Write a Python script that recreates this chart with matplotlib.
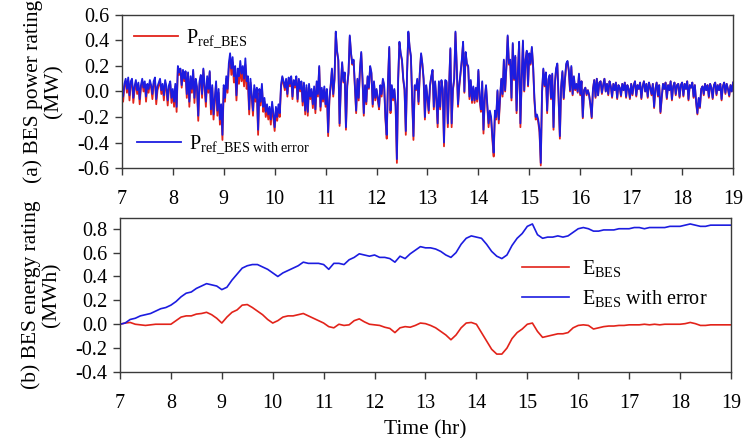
import numpy as np
import matplotlib
matplotlib.use("Agg")
import matplotlib.pyplot as plt
from matplotlib.lines import Line2D

plt.rcParams['font.family'] = ['Liberation Serif', 'DejaVu Serif']
plt.rcParams['mathtext.fontset'] = 'custom'
plt.rcParams['mathtext.rm'] = 'Liberation Serif'
plt.rcParams['mathtext.it'] = 'Liberation Serif:italic'

# ---------------- data: BES power (MW), 0.025 h steps from 7 to 19 h ----------------
P_with_error = [
    # 7 h
    0.00, -0.04, 0.06, 0.10, 0.02, 0.11, -0.03, 0.08, 0.10, -0.05, 0.04, 0.09, 0.01, 0.07, -0.06, 0.05, 0.10, 0.03, 0.08, -0.04,
    0.06, 0.02, 0.09, 0.05, -0.02, 0.08, 0.11, -0.06, 0.04, 0.07, 0.10, 0.01, 0.06, -0.03, 0.09, 0.04, -0.07, 0.05, 0.08, -0.05,
    # 8 h
    0.02, -0.08, 0.06, -0.12, 0.20, 0.15, 0.18, 0.05, 0.17, 0.10, 0.16, -0.02, 0.15, -0.08, 0.12, 0.02, 0.17, -0.05, 0.10, 0.04,
    -0.19, 0.08, 0.13, -0.02, 0.18, 0.05, -0.08, 0.12, 0.02, 0.16, -0.14, 0.05, -0.18, -0.05, 0.08, -0.15, 0.02, -0.22, -0.10, -0.34,
    # 9 h
    0.05, -0.05, 0.12, 0.02, 0.22, 0.30, 0.18, 0.27, 0.12, 0.20, -0.03, 0.18, 0.12, 0.24, 0.14, 0.20, 0.10, 0.26, 0.08, 0.12,
    -0.14, 0.10, -0.02, -0.15, 0.05, -0.05, 0.03, -0.30, 0.02, -0.08, 0.06, -0.12, -0.05, -0.16, -0.10, -0.18, -0.12, -0.22, -0.08, -0.17,
    # 10 h
    -0.28, -0.12, -0.20, -0.10, -0.17, 0.05, 0.12, 0.08, 0.03, 0.10, -0.02, 0.11, 0.06, 0.12, -0.04, 0.09, 0.05, 0.12, -0.06, 0.10,
    0.02, 0.08, -0.08, 0.07, -0.15, 0.05, -0.16, 0.06, -0.04, 0.02, -0.10, 0.04, -0.14, 0.08, -0.02, 0.20, -0.12, 0.03, -0.06, 0.04,
    # 11 h
    -0.10, 0.02, -0.32, -0.05, 0.05, 0.18, -0.02, 0.10, 0.47, 0.32, 0.25, -0.25, 0.05, 0.23, 0.08, 0.15, -0.28, 0.05, 0.15, 0.44,
    0.30, 0.22, 0.25, 0.05, -0.15, 0.10, -0.05, 0.18, 0.31, 0.10, -0.17, 0.05, -0.08, 0.12, 0.03, 0.20, 0.15, -0.10, 0.08, -0.05,
    # 12 h
    0.02, -0.05, -0.12, 0.05, -0.02, 0.10, 0.05, -0.20, -0.34, 0.08, 0.35, -0.15, 0.05, -0.05, 0.02, -0.10, -0.53, 0.10, 0.39, 0.30,
    0.25, 0.10, 0.02, -0.31, 0.15, 0.47, 0.35, 0.28, -0.05, -0.35, 0.05, 0.02, 0.10, -0.08, 0.15, 0.30, 0.22, 0.10, -0.20, 0.05,
    # 13 h
    -0.04, -0.15, 0.05, 0.12, 0.17, -0.12, 0.08, -0.05, -0.25, 0.08, -0.12, 0.09, 0.02, -0.40, 0.09, 0.08, -0.25, 0.05, 0.34, -0.25,
    0.02, 0.10, 0.47, 0.20, -0.10, 0.05, 0.15, 0.25, 0.39, 0.00, 0.31, 0.22, 0.20, -0.04, 0.09, -0.07, 0.04, -0.07, 0.03, -0.06,
    # 14 h
    0.17, -0.05, -0.14, 0.08, -0.30, -0.05, 0.05, -0.10, -0.25, -0.15, -0.20, -0.35, -0.48, -0.15, -0.20, 0.01, -0.22, -0.05, 0.10, -0.02,
    0.25, 0.01, 0.20, 0.44, 0.22, 0.25, -0.05, 0.38, 0.10, 0.28, -0.15, 0.15, 0.39, -0.25, 0.10, 0.40, 0.01, 0.25, 0.32, 0.05,
    # 15 h
    0.30, 0.22, 0.35, 0.20, -0.05, -0.20, -0.18, -0.22, -0.30, -0.56, 0.00, 0.18, 0.05, 0.15, -0.15, 0.10, 0.13, -0.05, 0.14, -0.28,
    0.05, 0.18, 0.22, -0.05, -0.35, 0.04, 0.16, -0.05, 0.10, 0.22, 0.24, 0.17, 0.01, 0.20, -0.02, 0.12, 0.02, 0.06, 0.00, 0.14,
    # 16 h
    -0.02, 0.08, -0.20, 0.01, 0.03, -0.02, 0.01, -0.03, -0.10, -0.20, 0.02, 0.09, -0.04, 0.10, -0.03, 0.07, 0.08, -0.01, 0.05, 0.10,
    0.00, 0.06, -0.02, 0.08, 0.04, -0.04, 0.06, 0.01, 0.07, -0.05, 0.05, 0.03, -0.03, 0.06, 0.01, 0.07, -0.04, 0.05, 0.02, -0.05,
    # 17 h
    0.06, -0.02, 0.05, 0.08, -0.03, 0.05, 0.02, 0.07, -0.05, 0.04, 0.08, 0.00, 0.06, -0.04, 0.07, 0.03, -0.02, 0.06, -0.12, 0.02,
    0.07, -0.03, 0.05, -0.16, -0.04, 0.06, 0.02, 0.07, -0.05, 0.05, 0.01, 0.08, -0.06, 0.04, 0.07, -0.02, 0.05, 0.06, -0.04, 0.05,
    # 18 h
    0.07, -0.03, 0.06, 0.02, 0.08, -0.06, 0.05, 0.03, 0.07, -0.04, 0.05, -0.08, -0.17, -0.05, -0.12, 0.02, 0.04, -0.02, 0.06, 0.01,
    0.05, -0.04, 0.06, 0.03, -0.05, 0.05, 0.07, -0.02, 0.05, 0.01, 0.06, -0.06, 0.04, 0.07, -0.01, 0.06, 0.02, -0.03, 0.05, 0.00,
    # 19 h
    0.07,
]

# forecast error added to the reference power (MW)
P_error = [
    # 7 h
    0.02, 0.04, 0.02, 0.02, 0.03, 0.02, 0.04, 0.02, 0.02, 0.04, 0.03, 0.02, 0.03, 0.02, 0.04, 0.02, 0.02, 0.03, 0.02, 0.04,
    0.02, 0.03, 0.02, 0.02, 0.04, 0.02, 0.02, 0.04, 0.03, 0.02, 0.02, 0.03, 0.02, 0.04, 0.02, 0.03, 0.04, 0.02, 0.02, 0.04,
    # 8 h
    0.02, 0.04, 0.02, 0.04, 0.01, 0.02, 0.01, 0.02, 0.01, 0.02, 0.01, 0.03, 0.01, 0.04, 0.02, 0.03, 0.01, 0.04, 0.02, 0.03,
    0.04, 0.02, 0.01, 0.03, 0.01, 0.02, 0.04, 0.02, 0.03, 0.01, 0.04, 0.02, 0.04, 0.03, 0.02, 0.04, 0.03, 0.04, 0.03, 0.04,
    # 9 h
    0.02, 0.03, 0.02, 0.03, 0.04, 0.03, 0.05, 0.04, 0.05, 0.05, 0.04, 0.05, 0.06, 0.05, 0.06, 0.05, 0.06, 0.05, 0.06, 0.05,
    0.04, 0.03, 0.03, 0.04, 0.03, 0.03, 0.03, 0.04, 0.03, 0.03, 0.02, 0.04, 0.03, 0.04, 0.03, 0.04, 0.03, 0.04, 0.03, 0.04,
    # 10 h
    0.03, 0.03, 0.03, 0.03, 0.03, 0.02, 0.01, 0.02, 0.02, 0.01, 0.02, 0.01, 0.02, 0.01, 0.02, 0.01, 0.02, 0.01, 0.02, 0.01,
    0.02, 0.01, 0.03, 0.01, 0.03, 0.02, 0.03, 0.02, 0.02, 0.02, 0.03, 0.02, 0.03, 0.02, 0.02, 0.01, 0.03, 0.02, 0.02, 0.02,
    # 11 h
    0.02, 0.01, 0.03, 0.02, 0.01, 0.01, 0.02, 0.01, 0.01, 0.01, 0.01, 0.02, 0.01, 0.01, 0.01, 0.01, 0.02, 0.01, 0.01, 0.01,
    0.01, 0.01, 0.01, 0.01, 0.02, 0.01, 0.02, 0.01, 0.01, 0.01, 0.02, 0.01, 0.02, 0.01, 0.01, 0.01, 0.01, 0.02, 0.01, 0.02,
    # 12 h
    0.01, 0.02, 0.02, 0.01, 0.02, 0.01, 0.01, 0.02, 0.03, 0.01, 0.01, 0.02, 0.01, 0.02, 0.01, 0.02, 0.03, 0.01, 0.01, 0.01,
    0.01, 0.01, 0.01, 0.03, 0.01, 0.01, 0.01, 0.01, 0.02, 0.03, 0.01, 0.01, 0.01, 0.02, 0.01, 0.01, 0.01, 0.01, 0.02, 0.01,
    # 13 h
    0.02, 0.02, 0.01, 0.01, 0.01, 0.02, 0.01, 0.02, 0.03, 0.01, 0.02, 0.01, 0.01, 0.03, 0.01, 0.01, 0.03, 0.01, 0.01, 0.03,
    0.01, 0.01, 0.01, 0.01, 0.02, 0.01, 0.01, 0.01, 0.01, 0.01, 0.01, 0.01, 0.01, 0.02, 0.01, 0.02, 0.01, 0.02, 0.01, 0.02,
    # 14 h
    0.01, 0.02, 0.02, 0.01, 0.03, 0.02, 0.01, 0.02, 0.03, 0.02, 0.02, 0.03, 0.03, 0.02, 0.02, 0.01, 0.03, 0.02, 0.01, 0.02,
    0.01, 0.01, 0.01, 0.01, 0.01, 0.01, 0.02, 0.01, 0.01, 0.01, 0.02, 0.01, 0.01, 0.03, 0.01, 0.01, 0.01, 0.01, 0.01, 0.01,
    # 15 h
    0.01, 0.01, 0.01, 0.01, 0.02, 0.02, 0.02, 0.02, 0.02, 0.02, 0.01, 0.01, 0.01, 0.01, 0.02, 0.01, 0.01, 0.01, 0.01, 0.02,
    0.01, 0.01, 0.01, 0.01, 0.02, 0.01, 0.01, 0.01, 0.01, 0.01, 0.01, 0.01, 0.01, 0.01, 0.01, 0.01, 0.01, 0.01, 0.01, 0.01,
    # 16 h
    0.01, 0.00, 0.01, 0.00, 0.00, 0.01, 0.00, 0.00, 0.01, 0.01, 0.00, 0.00, 0.01, 0.00, 0.00, 0.00, 0.00, 0.01, 0.00, 0.00,
    0.00, 0.00, 0.01, 0.00, 0.00, 0.01, 0.00, 0.00, 0.00, 0.01, 0.00, 0.00, 0.01, 0.00, 0.00, 0.00, 0.01, 0.00, 0.00, 0.01,
    # 17 h
    0.00, 0.01, 0.00, 0.00, 0.01, 0.00, 0.00, 0.00, 0.01, 0.00, 0.00, 0.00, 0.00, 0.01, 0.00, 0.00, 0.01, 0.00, 0.01, 0.00,
    0.00, 0.01, 0.00, 0.01, 0.01, 0.00, 0.00, 0.00, 0.01, 0.00, 0.00, 0.00, 0.01, 0.00, 0.00, 0.01, 0.00, 0.00, 0.01, 0.00,
    # 18 h
    0.00, 0.01, 0.00, 0.00, 0.00, 0.01, 0.00, 0.00, 0.00, 0.01, 0.00, 0.01, 0.01, 0.01, 0.01, 0.00, 0.00, 0.01, 0.00, 0.00,
    0.00, 0.01, 0.00, 0.00, 0.01, 0.00, 0.00, 0.01, 0.00, 0.00, 0.00, 0.01, 0.00, 0.00, 0.01, 0.00, 0.00, 0.01, 0.00, 0.00,
    # 19 h
    0.00,
]

# ---------------- data: BES energy (MWh), 0.1 h steps from 7 to 19 h ----------------
E_with_error = [
    0.00, 0.01, 0.04, 0.05, 0.07, 0.08, 0.09, 0.11, 0.13, 0.14,
    0.16, 0.19, 0.23, 0.26, 0.27, 0.30, 0.32, 0.34, 0.33, 0.32,
    0.29, 0.31, 0.37, 0.42, 0.47, 0.49, 0.50, 0.50, 0.48, 0.46,
    0.43, 0.40, 0.43, 0.45, 0.47, 0.49, 0.52, 0.51, 0.51, 0.51,
    0.50, 0.46, 0.51, 0.51, 0.50, 0.54, 0.56, 0.59, 0.58, 0.57,
    0.58, 0.56, 0.56, 0.55, 0.52, 0.57, 0.55, 0.59, 0.62, 0.65,
    0.64, 0.64, 0.63, 0.61, 0.58, 0.56, 0.60, 0.67, 0.72, 0.74,
    0.73, 0.72, 0.67, 0.61, 0.57, 0.55, 0.58, 0.66, 0.72, 0.76,
    0.82, 0.84, 0.75, 0.72, 0.73, 0.73, 0.74, 0.73, 0.74, 0.77,
    0.80, 0.81, 0.80, 0.78, 0.78, 0.79, 0.79, 0.79, 0.80, 0.80,
    0.80, 0.81, 0.81, 0.80, 0.81, 0.81, 0.81, 0.81, 0.82, 0.82,
    0.82, 0.83, 0.84, 0.83, 0.82, 0.82, 0.83, 0.83, 0.83, 0.83,
    0.83,
]
E_BES = [
    0.00, 0.01, 0.015, 0.00, -0.005, -0.01, -0.005, 0.00, 0.00, 0.00,
    0.00, 0.03, 0.06, 0.07, 0.07, 0.085, 0.09, 0.10, 0.08, 0.05,
    0.01, 0.06, 0.10, 0.12, 0.16, 0.165, 0.14, 0.11, 0.08, 0.04,
    0.01, 0.03, 0.06, 0.07, 0.07, 0.08, 0.09, 0.07, 0.05, 0.03,
    0.01, -0.02, -0.03, 0.00, -0.01, -0.005, 0.03, 0.045, 0.02, 0.00,
    -0.005, -0.01, -0.025, -0.035, -0.07, -0.03, -0.02, -0.025, -0.01, 0.01,
    0.005, -0.01, -0.03, -0.06, -0.09, -0.13, -0.09, -0.03, 0.01, 0.015,
    0.00, -0.07, -0.14, -0.21, -0.25, -0.25, -0.20, -0.12, -0.07, -0.04,
    0.00, 0.01, -0.06, -0.11, -0.10, -0.09, -0.08, -0.08, -0.07, -0.03,
    -0.01, -0.005, -0.01, -0.04, -0.03, -0.02, -0.015, -0.015, -0.01, -0.01,
    -0.005, -0.005, -0.005, 0.00, -0.005, 0.00, -0.005, 0.00, 0.00, 0.00,
    0.00, 0.005, 0.015, 0.005, -0.01, -0.01, -0.005, -0.005, -0.005, -0.005,
    -0.005,
]

x_ticks = [7, 8, 9, 10, 11, 12, 13, 14, 15, 16, 17, 18, 19]
p_yticks = [-0.6, -0.4, -0.2, 0.0, 0.2, 0.4, 0.6]
e_yticks = [-0.4, -0.2, 0.0, 0.2, 0.4, 0.6, 0.8]

t_p = np.linspace(7, 19, len(P_with_error))
t_e = np.linspace(7, 19, len(E_BES))
P_blue = np.array(P_with_error)
P_red = P_blue - np.array(P_error)

RED = '#e2231a'
BLUE = '#1c1ce0'
SPINE = '#3a3a3a'
FS = 14.5
LFS = 15.5

fig = plt.figure(figsize=(7.43, 4.38), dpi=100)
ax1 = fig.add_axes([0.164, 0.6164, 0.8226, 0.3494])
ax2 = fig.add_axes([0.1615, 0.1507, 0.8223, 0.3516])

def style(ax):
    for s in ax.spines.values():
        s.set_color(SPINE)
        s.set_linewidth(1.0)
    ax.tick_params(direction='out', length=5, width=1.0, color=SPINE,
                   labelsize=FS, top=False, right=False)
    ax.tick_params(axis='x', pad=11)
    ax.tick_params(axis='y', pad=4)
    ax.set_xlim(7, 19)
    ax.set_xticks(x_ticks)
    ax.set_xticklabels([str(v) for v in x_ticks])

# ---- top panel
ax1.plot(t_p, P_red, color=RED, lw=1.3)
ax1.plot(t_p, P_blue, color=BLUE, lw=1.3)
ax1.set_ylim(-0.6, 0.6)
ax1.set_yticks(p_yticks)
ax1.set_yticklabels([f'{v:.1f}' for v in p_yticks])
style(ax1)
ax1.set_ylabel('(a) BES power rating\n(MW)', fontsize=LFS, linespacing=1.1, labelpad=10)

h_red = Line2D([], [], color=RED, lw=1.3)
h_blue = Line2D([], [], color=BLUE, lw=1.3)
leg1 = ax1.legend([h_red], [r'P$_{\mathrm{ref\_BES}}$'], loc='upper left', frameon=False,
                  fontsize=FS, handlelength=2.2, handletextpad=0.4, borderaxespad=0.2,
                  bbox_to_anchor=(0.0, 1.0))
ax1.add_artist(leg1)
ax1.legend([h_blue], [r'P$_{\mathrm{ref\_BES\ with\ error}}$'], loc='lower left', frameon=False,
           fontsize=FS, handlelength=2.2, handletextpad=0.4, borderaxespad=0.2,
           bbox_to_anchor=(0.005, 0.0))

# ---- bottom panel
ax2.plot(t_e, E_BES, color=RED, lw=1.2, label=r'E$_{\mathrm{BES}}$')
ax2.plot(t_e, E_with_error, color=BLUE, lw=1.2, label=r'E$_{\mathrm{BES}}$ with error')
ax2.set_ylim(-0.4, 0.89)
ax2.set_yticks(e_yticks)
ax2.set_yticklabels([f'{v:.1f}' for v in e_yticks])
style(ax2)
ax2.set_ylabel('(b) BES energy rating\n(MWh)', fontsize=LFS, linespacing=1.1, labelpad=10)
ax2.set_xlabel('Time (hr)', fontsize=LFS, labelpad=5)
ax2.legend(loc='center left', bbox_to_anchor=(0.628, 0.575), frameon=False,
           fontsize=FS, handlelength=2.35, labelspacing=0.45, handletextpad=0.65)

fig.savefig('out.png', dpi=100)
